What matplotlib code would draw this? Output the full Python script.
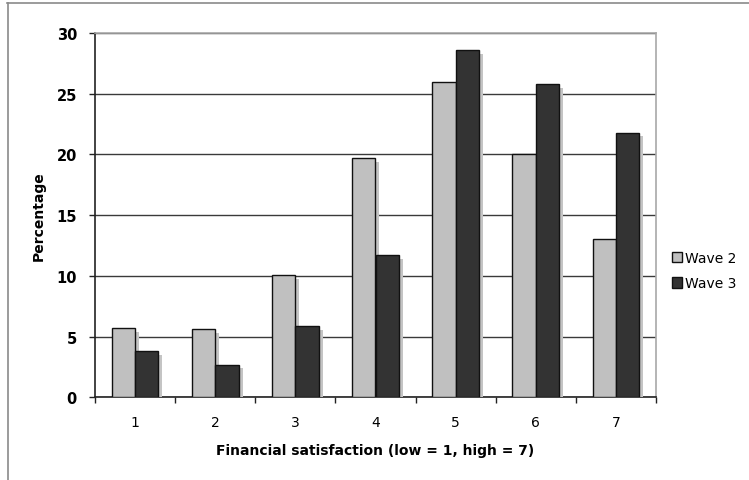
import matplotlib
matplotlib.use("Agg")
import matplotlib.pyplot as plt
import matplotlib.patheffects as pe
import numpy as np
from matplotlib.lines import Line2D

# Financial satisfaction by wave (percent of respondents)
categories = ["1", "2", "3", "4", "5", "6", "7"]
wave2 = [5.7, 5.6, 10.1, 19.7, 26.0, 20.0, 13.0]
wave3 = [3.8, 2.7, 5.9, 11.7, 28.6, 25.8, 21.8]
series_names = ["Wave 2", "Wave 3"]
y_ticks = [0, 5, 10, 15, 20, 25, 30]

light = "#c0c0c0"
dark = "#333333"
shadow = pe.SimplePatchShadow(offset=(2.8, -2.8), shadow_rgbFace="#c4c4c4", alpha=1.0)

fig = plt.figure(figsize=(7.49, 4.81), dpi=100)
ax = fig.add_axes([95 / 749, 1 - 398.3 / 481, (656 - 95) / 749, (398.3 - 34) / 481])

x = np.arange(len(categories))
w = 0.292
for vals, col, off in [(wave2, light, -w / 2), (wave3, dark, w / 2)]:
    bars = ax.bar(x + off, vals, width=w, color=col, edgecolor="#111111",
                  linewidth=1.0, zorder=3)
    for b in bars:
        b.set_path_effects([shadow, pe.Normal()])

ax.set_xlim(-0.5, len(categories) - 0.5)
ax.set_ylim(0, 30)

# horizontal gridlines behind the bars
ax.set_yticks(y_ticks)
ax.yaxis.grid(True, color="#3a3a3a", linewidth=1.0, zorder=0)
ax.set_axisbelow(True)

# x ticks between categories, labels centred under each pair
ax.set_xticks(np.arange(len(categories) + 1) - 0.5)
ax.set_xticklabels([])
ax.set_xticks(x, minor=True)
ax.set_xticklabels(categories, minor=True, fontsize=10)
ax.tick_params(axis="x", which="minor", length=0, pad=13)
ax.tick_params(axis="x", which="major", length=4, width=1, color="#222222")
ax.tick_params(axis="y", length=4, width=1, color="#222222", pad=9)
for lab in ax.get_yticklabels():
    lab.set_fontweight("bold")
    lab.set_fontsize(10.5)

ax.spines["left"].set_color("#222222")
ax.spines["bottom"].set_color("#222222")
ax.spines["top"].set_color("#a8a8a8")
ax.spines["right"].set_color("#a8a8a8")
for s in ax.spines.values():
    s.set_linewidth(1.2)

ax.set_ylabel("Percentage", fontsize=10, fontweight="bold", labelpad=8)
ax.set_xlabel("Financial satisfaction (low = 1, high = 7)", fontsize=10,
              fontweight="bold", labelpad=10)

handles = [plt.Rectangle((0, 0), 1, 1, facecolor=c, edgecolor="#111111", linewidth=1.0)
           for c in (light, dark)]
fig.legend(handles, series_names, loc="upper left", bbox_to_anchor=(666 / 749, 1 - 246 / 481),
           frameon=False, fontsize=10, handlelength=0.75, handleheight=0.75,
           handletextpad=0.25, labelspacing=0.85, borderaxespad=0)

# outer frame: top and left edges
fig.add_artist(Line2D([7 / 749, 1], [1 - 3.5 / 481, 1 - 3.5 / 481],
                      transform=fig.transFigure, color="#8a8a8a", linewidth=1.2))
fig.add_artist(Line2D([7.5 / 749, 7.5 / 749], [0, 1 - 3.5 / 481],
                      transform=fig.transFigure, color="#8a8a8a", linewidth=1.2))

fig.savefig("out.png", dpi=100)
